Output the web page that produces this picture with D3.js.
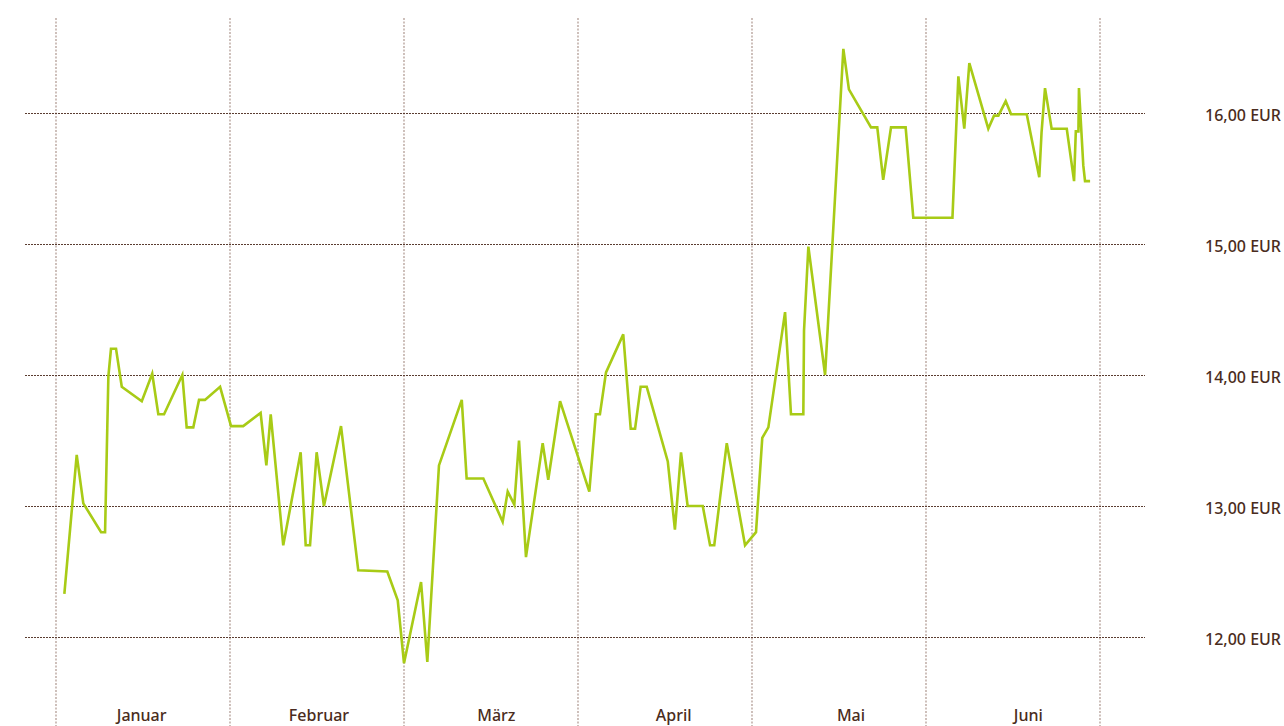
<!DOCTYPE html>
<html>
<head>
<meta charset="utf-8">
<script src="https://cdnjs.cloudflare.com/ajax/libs/d3/7.8.5/d3.min.js"></script>
<style>
  body { margin: 0; background: #fff; }
  text { font-family: "Noto Sans", sans-serif; fill: #4a2c20; }
</style>
</head>
<body>
<svg width="1284" height="726"></svg>
<script>
// months shown on the x axis
var months = ['Januar', 'Februar', 'März', 'April', 'Mai', 'Juni'];

// price ticks (EUR)
var priceTicks = [12, 13, 14, 15, 16];

// position in months since 1 January (0 = start of Jan, 6 = end of Jun)
var monthPos = [
    0.048, 0.119, 0.157, 0.259, 0.282, 0.301, 0.316, 0.345, 0.378, 0.493,
    0.553, 0.588, 0.621, 0.726, 0.751, 0.789, 0.822, 0.856, 0.943, 1.006,
    1.076, 1.176, 1.209, 1.234, 1.306, 1.406, 1.435, 1.460, 1.498, 1.540,
    1.638, 1.737, 1.904, 1.964, 2.000, 2.098, 2.134, 2.201, 2.332, 2.360,
    2.456, 2.567, 2.596, 2.634, 2.661, 2.701, 2.797, 2.829, 2.897, 3.065,
    3.102, 3.126, 3.161, 3.260, 3.303, 3.328, 3.360, 3.395, 3.516, 3.557,
    3.592, 3.630, 3.717, 3.759, 3.783, 3.855, 3.960, 4.023, 4.059, 4.094,
    4.190, 4.224, 4.295, 4.299, 4.324, 4.420, 4.525, 4.557, 4.684, 4.720,
    4.754, 4.799, 4.883, 4.927, 5.152, 5.186, 5.220, 5.249, 5.358, 5.391,
    5.416, 5.458, 5.489, 5.579, 5.651, 5.664, 5.684, 5.722, 5.809, 5.851,
    5.861, 5.876, 5.879, 5.904, 5.914, 5.943
];

// price in EUR
var prices = [
    12.33, 13.39, 13.02, 12.80, 12.80, 13.99, 14.20, 14.20, 13.91, 13.80,
    14.01, 13.70, 13.70, 14.00, 13.60, 13.60, 13.81, 13.81, 13.91, 13.61,
    13.61, 13.71, 13.31, 13.70, 12.70, 13.41, 12.70, 12.70, 13.41, 13.00,
    13.61, 12.51, 12.50, 12.28, 11.80, 12.42, 11.81, 13.31, 13.81, 13.21,
    13.21, 12.88, 13.11, 13.01, 13.50, 12.61, 13.48, 13.20, 13.80, 13.11,
    13.70, 13.70, 14.02, 14.31, 13.59, 13.59, 13.91, 13.91, 13.34, 12.82,
    13.41, 13.00, 13.00, 12.70, 12.70, 13.48, 12.70, 12.80, 13.52, 13.60,
    14.48, 13.70, 13.70, 14.34, 14.98, 14.00, 16.49, 16.18, 15.89, 15.89,
    15.49, 15.89, 15.89, 15.20, 15.20, 16.28, 15.88, 16.38, 15.88, 15.98,
    15.98, 16.09, 15.99, 15.99, 15.51, 15.85, 16.19, 15.88, 15.88, 15.48,
    15.86, 15.86, 16.19, 15.60, 15.48, 15.48
];

var data = monthPos.map(function(t, i) {
    return { t: t, price: prices[i] };
});

var svg = d3.select('svg');

var scaleX = d3.scaleLinear().domain([0, 6]).range([56, 1100]);
var scaleY = d3.scaleLinear().domain([12, 16]).range([637, 113]);
// month labels sit on their own band scale (slightly wider than the grid)
var scaleMonth = d3.scaleBand().domain(months).range([53, 1117]);

// vertical month borders
svg.append('g')
    .selectAll('line')
    .data(d3.range(0, 7))
    .enter()
    .append('line')
    .attr('x1', function(d){ return scaleX(d); })
    .attr('x2', function(d){ return scaleX(d); })
    .attr('y1', 18)
    .attr('y2', 726)
    .attr('stroke', '#b9a59e')
    .attr('stroke-width', 1.4)
    .attr('stroke-dasharray', '2,1.5');

// horizontal price grid
svg.append('g')
    .selectAll('line')
    .data(priceTicks)
    .enter()
    .append('line')
    .attr('x1', 25)
    .attr('x2', 1145)
    .attr('y1', function(d){ return Math.round(scaleY(d)) + 0.5; })
    .attr('y2', function(d){ return Math.round(scaleY(d)) + 0.5; })
    .attr('stroke', '#5b3d31')
    .attr('stroke-width', 1)
    .attr('stroke-dasharray', '2,1');

// right axis labels
var yAxis = d3.axisRight(scaleY)
    .tickValues(priceTicks)
    .tickSize(0)
    .tickPadding(0)
    .tickFormat(function(d){ return d.toFixed(2).replace('.', ',') + ' EUR'; });

var gy = svg.append('g')
    .attr('transform', 'translate(1205,2)')
    .call(yAxis);
gy.select('.domain').remove();
gy.selectAll('text')
    .attr('font-size', 16)
    .attr('font-weight', 500)
    .attr('font-family', '"Noto Sans", sans-serif')
    .attr('fill', '#4a2c20');

// month labels
svg.append('g')
    .selectAll('text')
    .data(months)
    .enter()
    .append('text')
    .attr('x', function(d){ return scaleMonth(d) + scaleMonth.bandwidth() / 2; })
    .attr('y', 721)
    .attr('text-anchor', 'middle')
    .attr('font-size', 16)
    .attr('font-weight', 500)
    .text(function(d){ return d; });

// price line
var line = d3.line()
    .x(function(d){ return scaleX(d.t); })
    .y(function(d){ return scaleY(d.price); });

svg.append('path')
    .datum(data)
    .attr('d', line)
    .attr('fill', 'none')
    .attr('stroke', '#a8cb16')
    .attr('stroke-width', 2.6);
</script>
</body>
</html>
